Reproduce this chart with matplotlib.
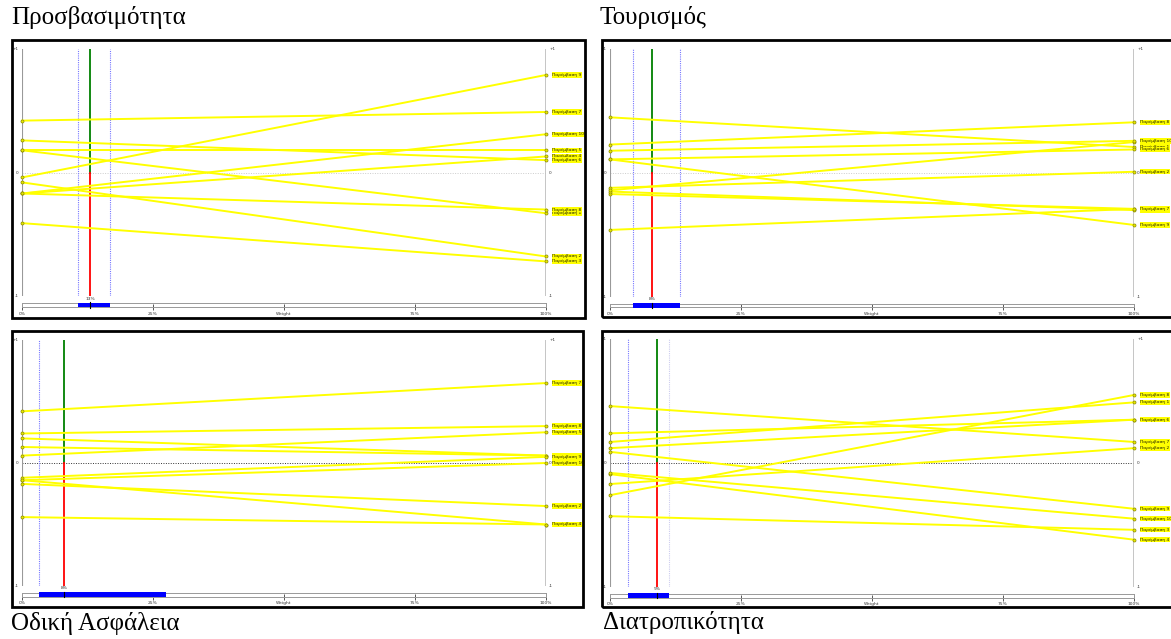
import matplotlib
matplotlib.use('Agg')
import matplotlib.pyplot as plt
from matplotlib.patches import Rectangle

W, H = 1171, 639

titles = ['Προσβασιμότητα', 'Τουρισμός', 'Οδική Ασφάλεια', 'Διατροπικότητα']
alt_labels = ['Παρέμβαση %d' % i for i in range(1, 11)]

# score at weight 0% (left) and 100% (right) for Παρέμβαση 1..10
acc_left = [0.18, -0.08, -0.41, -0.17, 0.18, 0.26, 0.42, -0.17, -0.04, -0.17]
acc_right = [-0.33, -0.68, -0.72, 0.13, 0.18, 0.10, 0.49, -0.30, 0.79, 0.31]

tour_left = [0.45, -0.12, -0.17, -0.15, -0.14, 0.11, -0.46, 0.23, 0.11, 0.18]
tour_right = [0.21, 0.01, -0.29, -0.30, 0.25, 0.19, -0.29, 0.41, -0.42, 0.26]

safe_left = [0.20, -0.17, -0.14, -0.44, 0.06, 0.13, 0.42, 0.24, -0.12, -0.14]
safe_right = [0.06, -0.35, -0.50, -0.50, 0.25, 0.06, 0.65, 0.30, 0.05, 0.00]

inter_left = [0.17, -0.17, -0.43, -0.09, 0.24, 0.12, 0.46, -0.26, 0.09, -0.08]
inter_right = [0.49, 0.12, -0.54, -0.62, 0.35, 0.35, 0.17, 0.55, -0.37, -0.45]

cur_weight = [13, 8, 8, 9]
range_lo = [10.7, 4.4, 3.3, 3.4]
range_hi = [16.7, 13.4, 27.5, 11.3]

weight_ticks = [0, 25, 50, 75, 100]
weight_ticklabels = ['0%', '25%', 'Weight', '75%', '100%']

lefts = [acc_left, tour_left, safe_left, inter_left]
rights = [acc_right, tour_right, safe_right, inter_right]

# layout in pixels: frame (l, t, r, b), plot (x0, x1, ytop, ybot), bar (top, bottom), title (x, baseline)
frames = [(12, 40, 585, 318), (602, 40, 1190, 317), (12, 331, 583, 607), (602, 331, 1190, 607)]
plots = [(22, 546, 49, 296), (610, 1134, 49.3, 296.7), (22, 546, 340, 586), (610, 1134, 339.3, 586.7)]
bars = [(303, 307), (303.5, 307.5), (592.5, 596.5), (593.5, 597.5)]
title_pos = [(11, 24), (600, 24), (11, 630), (603, 629)]
zero_color = ['#cccccc', '#cccccc', '#333333', '#333333']
hi_color = ['#7777ff', '#7777ff', None, '#ccccee']

fig = plt.figure(figsize=(W / 100, H / 100), dpi=100)


def fx(px):
    return px / W


def fy(py):
    return 1 - py / H


for i in range(4):
    l, t, r, b = frames[i]
    fig.add_artist(Rectangle((fx(l), fy(b)), (r - l) / W, (b - t) / H,
                             transform=fig.transFigure, fill=False,
                             ec='black', lw=2, clip_on=False))
    fig.text(fx(title_pos[i][0]), fy(title_pos[i][1]), titles[i],
             family='Liberation Serif', fontsize=18, va='baseline')

    x0, x1, yt, yb = plots[i]
    ax = fig.add_axes([fx(x0), fy(yb), (x1 - x0) / W, (yb - yt) / H])
    ax.set_xlim(0, 100)
    ax.set_ylim(-1, 1)
    ax.axis('off')

    ax.axhline(0, color=zero_color[i], ls=(0, (1, 1.5)), lw=0.7)
    ax.axvline(0, color='#999999', lw=0.8)
    ax.axvline(100, color='#c0c0c0', lw=2)
    for v, s in [(1, '+1'), (0, '0'), (-1, '-1')]:
        ax.text(-0.6, v, s, ha='right', va='center', fontsize=3, color='#333333')
        ax.text(100.6, v, s, ha='left', va='center', fontsize=3, color='#333333')

    w = cur_weight[i]
    ax.axvline(range_lo[i], color='#7777ff', ls=(0, (1, 1)), lw=0.8)
    if hi_color[i]:
        ax.axvline(range_hi[i], color=hi_color[i], ls=(0, (1, 1)), lw=0.8)
    ax.plot([w, w], [0, 1], color='#008000', lw=1.3)
    ax.plot([w, w], [-1, 0], color='#ff0000', lw=1.3)

    for lv, rv, lab in zip(lefts[i], rights[i], alt_labels):
        ax.plot([0, 100], [lv, rv], color='#ffff00', lw=1.4, clip_on=False,
                marker='o', ms=2.2, mfc='#e8e800', mec='#8a8a00', mew=0.5)
        ax.text(101.2, rv, lab, ha='left', va='center', fontsize=3.2,
                color='#222200',
                bbox=dict(boxstyle='square,pad=0.15', fc='#ffff00', ec='none'))

    bt, bb = bars[i]
    wax = fig.add_axes([fx(x0), fy(bb), (x1 - x0) / W, (bb - bt) / H])
    wax.set_xlim(0, 100)
    wax.set_ylim(0, 1)
    for sp in wax.spines.values():
        sp.set_color('#999999')
        sp.set_linewidth(0.7)
    wax.set_yticks([])
    wax.set_xticks(weight_ticks)
    wax.set_xticklabels(weight_ticklabels, fontsize=3.2, color='#333333')
    wax.tick_params(axis='x', direction='inout', length=4, width=0.7,
                    color='#555555', pad=1.5)
    wax.barh(0.5, range_hi[i] - range_lo[i], left=range_lo[i], height=1.2,
             color='#0000ff', clip_on=False, zorder=3)
    wax.plot([w, w], [-0.2, 1.2], color='black', lw=0.8, clip_on=False, zorder=4)
    wax.text(w, 1.6, '%d%%' % w, ha='center', va='bottom', fontsize=3.2,
             color='#333333')

fig.savefig('out.png', dpi=100)
